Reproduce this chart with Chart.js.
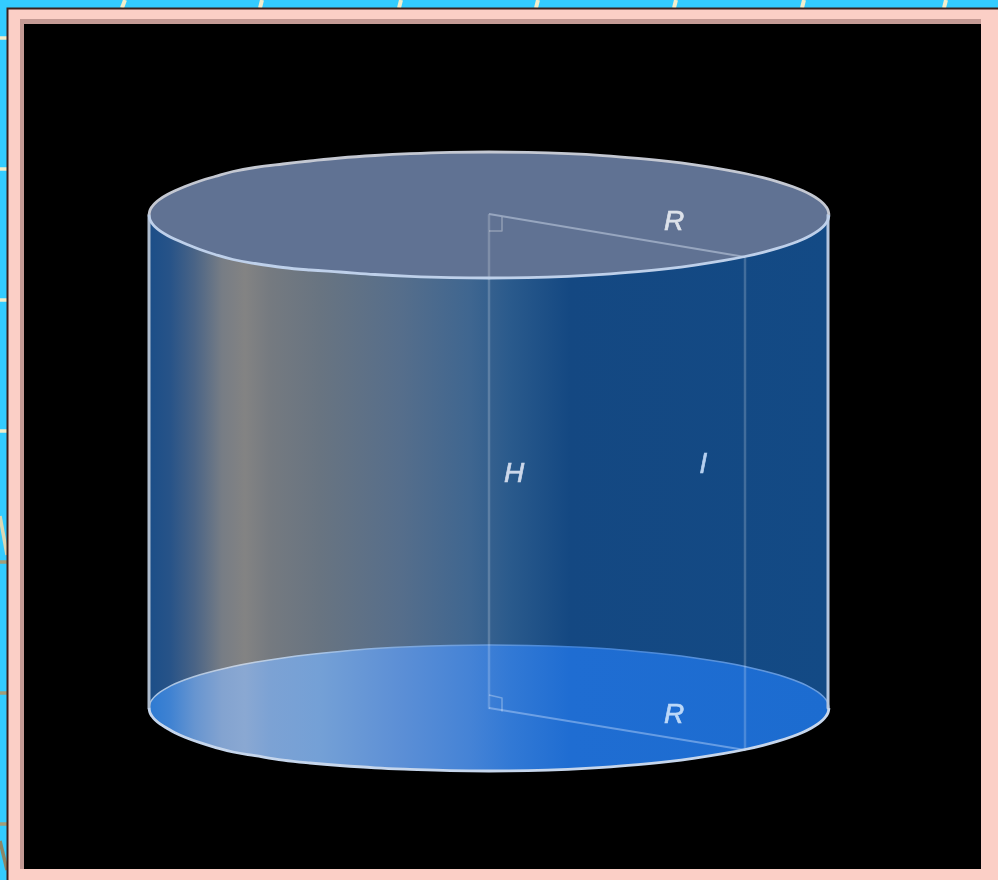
<!DOCTYPE html>
<html>
<head>
<meta charset="utf-8">
<style>
  html, body { margin: 0; padding: 0; background: #33ccff; overflow: hidden; }
  canvas { display: block; filter: blur(0.7px); }
</style>
<script src="https://cdn.jsdelivr.net/npm/chart.js@4"></script>
</head>
<body>
<canvas id="myChart" width="998" height="880"></canvas>
<script>
// rim of the cylinder
const rimX = [149, 150, 152, 155, 160, 167, 175, 185, 200, 215, 233, 255, 283, 310, 340, 375, 410, 450, 489,
  528, 568, 603, 638, 668, 695, 723, 745, 763, 778, 793, 803, 811, 818, 823, 826, 828, 829];
const topBackY = [215, 210.2, 206.7, 203.2, 199.1, 194.8, 190.8, 186.5, 181, 176.5, 171.5, 167.5, 164, 161, 158, 155.5, 153.7, 152.4, 152,
  152.4, 153.7, 155.6, 158.4, 161.4, 164.9, 169.3, 173.5, 177.7, 181.8, 186.8, 190.8, 194.8, 199.1, 203.2, 206.7, 210.2, 215];
const topFrontY = [215, 219.8, 223.3, 226.8, 230.9, 235.2, 239.2, 243.5, 249.5, 254.5, 259.5, 263.5, 267.5, 270, 272, 274.5, 276.3, 277.6, 278,
  277.6, 276.3, 274.4, 271.6, 268.6, 265.1, 260.7, 256.5, 252.3, 248.2, 243.2, 239.2, 235.2, 230.9, 226.8, 223.3, 219.8, 215];
const bottomBackY = [708, 703.2, 699.7, 696.2, 692.1, 687.8, 683.8, 679.8, 674.8, 670.7, 666.5, 662.3, 657.9, 654.4, 651.4, 648.6, 646.7, 645.4, 645,
  645.4, 646.7, 648.6, 651.4, 654.4, 657.9, 662.3, 666.5, 670.7, 674.8, 679.8, 683.8, 687.8, 692.1, 696.2, 699.7, 703.2, 708];
const bottomFrontY = [708, 712.8, 716.3, 719.8, 723.9, 728.2, 732.7, 737.2, 742.7, 747.3, 752, 755.7, 760.1, 763, 765.5, 767.8, 769.3, 770.6, 771,
  770.6, 769.3, 767.4, 764.6, 761.6, 758.1, 753.7, 749.5, 745.3, 741.2, 736.2, 732.2, 728.2, 723.9, 719.8, 716.3, 712.8, 708];

// colour bands across the cylinder
const bandX = [149, 170, 195, 222, 245, 270, 320, 400, 470, 510, 570, 829];
const wallColors = ['#1b4e88', '#275388', '#4a6486', '#777d85', '#838383', '#757a80', '#687481', '#566e8b', '#3f6690', '#2a5a8c', '#144882', '#134a85'];
const floorColors = ['#2d7ad2', '#3f82d2', '#6795d0', '#83a3d0', '#8aa8d2', '#7ca2d4', '#74a0d6', '#5c8fd6', '#4583d6', '#3279d5', '#1f6dd2', '#1c6cd0'];
const floorRimColors = ['#a9c3e2', '#a9c3e2', '#b2c6de', '#c0cde0', '#c4d0e0', '#b8cce4', '#a8c4e6', '#7fa8dc', '#6a9cdc', '#5c94da', '#3f82d8', '#6c9ede'];

// frame
const frameX = [0, 998];
const frameY = [0, 880];
const plateX = [6.5, 998];
const plateY = [7.5, 880];
const pinkX = [8.5, 998];
const pinkY = [9.5, 880];
const shadeX = [20, 981];
const shadeY = [19, 869];
const blackX = [24, 981];
const blackY = [24, 869];

// gridline stubs around the frame
const stubTopX = [261, 400, 537, 675, 803, 945];
const stubLeftY = [38, 169, 300, 431];
const stubLeftLowY = [562, 693, 824];

// inner construction lines
const heightX = [489, 489];
const heightY = [215, 708];
const slantX = [745, 745];
const slantY = [257, 750];
const radiusX = [489, 745];
const radiusTopY = [214, 257];
const radiusBottomY = [708, 750];
const cornerTopX = [489, 502, 502];
const cornerTopY = [231, 231, 217];
const cornerBottomX = [489, 502, 502];
const cornerBottomY = [695, 698, 711];

const labels = ['R', 'R', 'H', 'l'];
const labelX = [674, 674, 514, 703];
const labelY = [222, 715, 474, 465];
const labelColors = ['#dde2ea', '#bcd8f8', '#cdd8ea', '#b6d0f0'];

function pts(xs, ys) {
  return xs.map((x, i) => ({ x: x, y: ys[i] }));
}

function rect(xs, ys) {
  return [
    { x: xs[0], y: ys[0] }, { x: xs[1], y: ys[0] },
    { x: xs[1], y: ys[1] }, { x: xs[0], y: ys[1] }, { x: xs[0], y: ys[0] }
  ];
}

function shape(data, color, tension) {
  return { data: data, backgroundColor: color, borderColor: 'rgba(0,0,0,0)', borderWidth: 0, fill: 'shape', tension: tension || 0 };
}

function line(data, color, width, tension) {
  return { data: data, borderColor: color, borderWidth: width, fill: false, tension: tension || 0, borderJoinStyle: 'round' };
}

// gradient running left to right across the cylinder
function bands(colors) {
  return function (context) {
    const chart = context.chart;
    if (!chart.chartArea) return colors[0];
    const scale = chart.scales.x;
    const x0 = scale.getPixelForValue(bandX[0]);
    const x1 = scale.getPixelForValue(bandX[bandX.length - 1]);
    const g = chart.ctx.createLinearGradient(x0, 0, x1, 0);
    bandX.forEach((x, i) => g.addColorStop((x - bandX[0]) / (bandX[bandX.length - 1] - bandX[0]), colors[i]));
    return g;
  };
}

const topBack = pts(rimX, topBackY);
const topFront = pts(rimX, topFrontY);
const bottomBack = pts(rimX, bottomBackY);
const bottomFront = pts(rimX, bottomFrontY);

// listed bottom layer first, reversed below because Chart.js paints the last dataset first
const layers = [
  shape(rect(frameX, frameY), '#33ccff'),
  line([{ x: 125, y: 0 }, { x: 122, y: 8 }], '#f2eecb', 4),
  ...stubTopX.map(x => line([{ x: x + 1, y: 0 }, { x: x - 1, y: 8 }], '#f2eecb', 4)),
  ...stubLeftY.map(y => line([{ x: 0, y: y }, { x: 7, y: y }], '#f2eecb', 3.5)),
  ...stubLeftLowY.map(y => line([{ x: 0, y: y }, { x: 7, y: y }], '#a39d78', 3.5)),
  line([{ x: 0, y: 516 }, { x: 7, y: 555 }], '#dcd8b4', 3.5),
  line([{ x: 0, y: 841 }, { x: 7, y: 870 }], '#8e8666', 3.5),
  shape(rect(plateX, plateY), '#3a201c'),
  shape(rect(pinkX, pinkY), '#fbcfc6'),
  shape(rect(shadeX, shadeY), '#c49a94'),
  shape(rect(blackX, blackY), '#000000'),
  shape(topFront.concat(pts([829, 829], [215, 708]), bottomFront.slice().reverse(), pts([149, 149], [708, 215])), bands(wallColors), 0),
  shape(bottomBack.concat(bottomFront.slice().reverse()), bands(floorColors), 0.4),
  line(bottomBack, bands(floorRimColors), 1.5, 0.4),
  line(pts(heightX, heightY), 'rgba(255,255,255,0.2)', 2.5),
  line(pts(slantX, slantY), 'rgba(255,255,255,0.2)', 2.5),
  line(pts(radiusX, radiusBottomY), 'rgba(190,215,250,0.45)', 2),
  line(pts(cornerBottomX, cornerBottomY), 'rgba(255,255,255,0.3)', 1.5),
  shape(topBack.concat(topFront.slice().reverse()), '#607293', 0.4),
  line(pts(heightX, [215, 278]), 'rgba(255,255,255,0.2)', 2.5),
  line(pts(radiusX, radiusTopY), '#97a6bf', 2.2),
  line(pts(cornerTopX, cornerTopY), 'rgba(255,255,255,0.3)', 1.5),
  line(pts([149, 149], [215, 708]), '#aebccd', 3),
  line(pts([828, 828], [215, 708]), '#b3c5df', 3),
  line(bottomFront, '#c6d6ec', 2.8, 0.4),
  line(topBack, '#c4c8d2', 2.8, 0.4),
  line(topFront, '#bed0ea', 2.8, 0.4)
];

// text labels, placed through the axes like the rest
const labelPlugin = {
  id: 'labelPlugin',
  afterDatasetsDraw(chart) {
    const ctx = chart.ctx;
    ctx.save();
    ctx.font = 'italic 28px "Liberation Sans"';
    ctx.textAlign = 'center';
    ctx.textBaseline = 'middle';
    ctx.lineWidth = 0.7;
    labels.forEach((t, i) => {
      const x = chart.scales.x.getPixelForValue(labelX[i]);
      const y = chart.scales.y.getPixelForValue(labelY[i]);
      ctx.fillStyle = labelColors[i];
      ctx.strokeStyle = labelColors[i];
      ctx.fillText(t, x, y);
      ctx.strokeText(t, x, y);
    });
    ctx.restore();
  }
};

new Chart(document.getElementById('myChart'), {
  type: 'scatter',
  plugins: [labelPlugin],
  data: {
    datasets: layers.reverse().map(d => Object.assign({ showLine: true, pointRadius: 0, pointHoverRadius: 0 }, d))
  },
  options: {
    responsive: false,
    animation: false,
    events: [],
    layout: { padding: 0 },
    plugins: { legend: { display: false }, tooltip: { enabled: false } },
    scales: {
      x: { type: 'linear', display: false, min: 0, max: 998 },
      y: { type: 'linear', display: false, min: 0, max: 880, reverse: true }
    }
  }
});
</script>
</body>
</html>
